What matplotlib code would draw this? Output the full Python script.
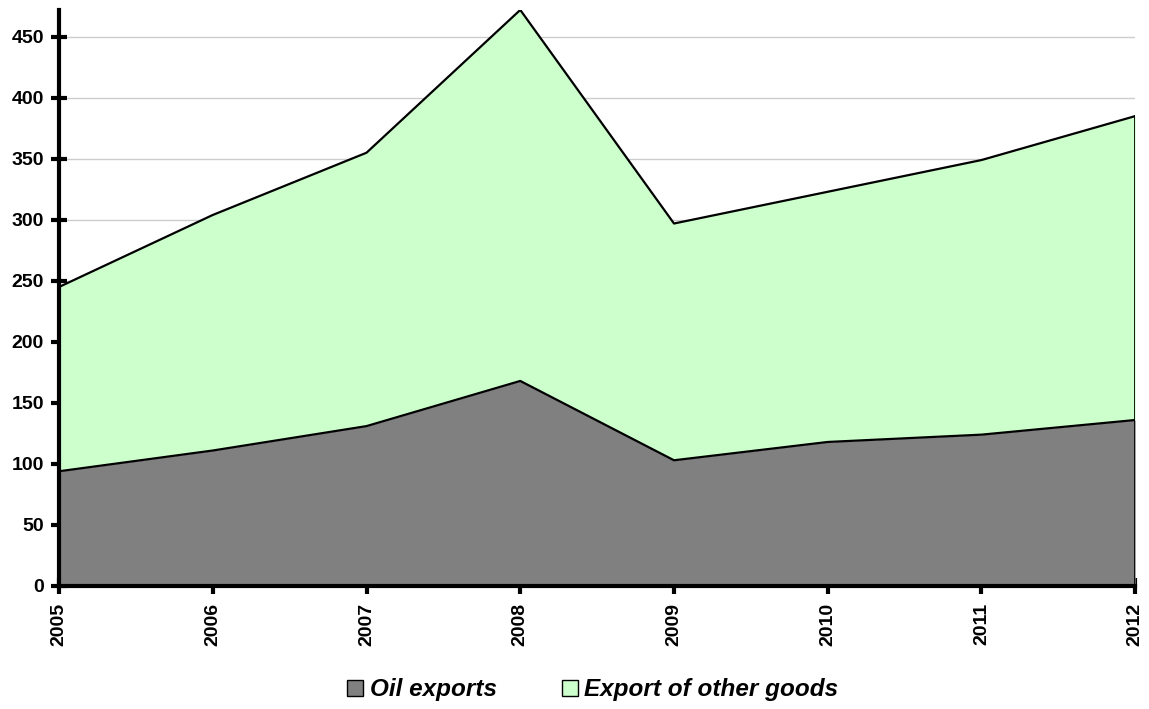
import matplotlib.pyplot as plt
from matplotlib.patches import Patch
import numpy as np

plt.rcParams['font.family'] = ['Liberation Sans', 'DejaVu Sans']

years = [2005, 2006, 2007, 2008, 2009, 2010, 2011, 2012]
oil = [94, 111, 131, 168, 103, 118, 124, 136]
total = [245, 304, 355, 472, 297, 323, 349, 385]
other = [t - o for t, o in zip(total, oil)]

oil_color = '#808080'
other_color = '#ccffcc'

fig = plt.figure(figsize=(11.49, 7.09), dpi=100)
ax = fig.add_axes([0.0514, 0.1735, 0.9366, 0.8125])

x = np.array(years)
oil_a = np.array(oil)
top_a = oil_a + np.array(other)

ax.fill_between(x, 0, oil_a, color=oil_color, lw=0, zorder=2)
ax.fill_between(x, oil_a, top_a, color=other_color, lw=0, zorder=2)
ax.plot(x, oil_a, color='black', lw=1.6, zorder=3)
ax.plot(x, top_a, color='black', lw=1.6, zorder=3)
ax.plot([x[-1], x[-1]], [0, top_a[-1]], color='black', lw=2, zorder=3)

ax.set_xlim(years[0], years[-1])
ax.set_ylim(0, max(total))
ax.set_yticks(np.arange(0, 451, 50))
ax.set_xticks(years)
ax.set_xticklabels([str(y) for y in years], rotation=90, fontweight='bold', fontsize=14)
for lab in ax.get_yticklabels():
    lab.set_fontweight('bold')
    lab.set_fontsize(14)

ax.yaxis.grid(True, color='#cccccc', lw=1, zorder=0)
ax.set_axisbelow(True)
for s in ['top', 'right']:
    ax.spines[s].set_visible(False)
for s in ['left', 'bottom']:
    ax.spines[s].set_linewidth(3)
    ax.spines[s].set_zorder(5)
ax.tick_params(axis='both', direction='inout', length=12, width=3)
ax.tick_params(axis='y', pad=5)
ax.tick_params(axis='x', pad=6)

handles = [Patch(facecolor=oil_color, edgecolor='black', label='Oil exports'),
           Patch(facecolor=other_color, edgecolor='black', label='Export of other goods')]
fig.legend(handles=handles, loc='center', bbox_to_anchor=(0.516, 0.027), ncol=2,
           frameon=False, prop={'weight': 'bold', 'style': 'italic', 'size': 17.5},
           handlelength=0.66, handleheight=0.66, handletextpad=0.25, columnspacing=2.7)

fig.savefig('out.png', dpi=100)
